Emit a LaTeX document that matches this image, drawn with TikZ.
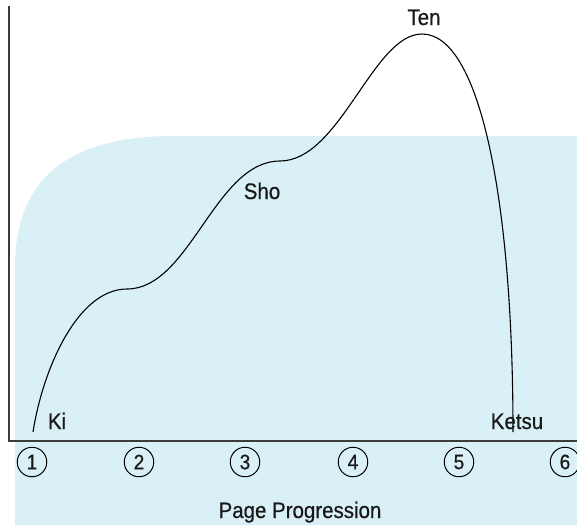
\documentclass[tikz,border=0pt]{standalone}
\usepackage{fontspec}
\setmainfont[FakeStretch=0.91,FakeBold=0.6]{Liberation Sans}
\definecolor{bgcyan}{RGB}{217,240,246}
\definecolor{axisgray}{RGB}{60,60,60}
\definecolor{txt}{RGB}{25,25,25}
\begin{document}
\begin{tikzpicture}[x=1pt,y=-1pt,
  axisline/.style={draw=axisgray,line width=1.4pt},
  storyline/.style={draw=black,line width=1.1pt},
  lbl/.style={font=\fontsize{22.5}{22.5}\selectfont,text=txt,inner sep=0pt,anchor=base},
  numcirc/.style={circle,draw=black,line width=1pt,inner sep=0pt,minimum size=29.5pt,
    font=\fontsize{21}{21}\selectfont,text=txt}]
\useasboundingbox (0,0) rectangle (577,525);
% background panel
\fill[bgcyan] (15,525) -- (15,267) .. controls (15,170) and (80,136) .. (173,136)
  -- (577,136) -- (577,525) -- cycle;
% axes
\coordinate (top) at (9,6);
\coordinate (origin) at (9,441);
\coordinate (right) at (577,441);
\draw[axisline] (top) -- (origin) -- (right);
% story curve
\coordinate (p0) at (33,432);
\coordinate (p1) at (127,289);
\coordinate (p2) at (280,161);
\coordinate (p3) at (422,34);
\coordinate (p4) at (513,432);
\draw[storyline] (p0) .. controls (43,368) and (78,289) .. (p1)
  .. controls (190,289) and (215,161) .. (p2)
  .. controls (340,161) and (373,34) .. (p3)
  .. controls (480,34) and (513,200) .. (p4);
% labels
\node[lbl] (ki) at (57,429) {Ki};
\node[lbl] (sho) at (262,199) {Sho};
\node[lbl] (ten) at (424,25) {Ten};
\node[lbl] (ketsu) at (517,429) {Ketsu};
% circled numbers
\node[numcirc] (n1) at (32,462) {1};
\node[numcirc] (n2) at (139,462) {2};
\node[numcirc] (n3) at (245,462) {3};
\node[numcirc] (n4) at (353,462) {4};
\node[numcirc] (n5) at (459,462) {5};
\node[numcirc] (n6) at (565,462) {6};
\node[lbl] (pp) at (300,518) {Page Progression};
\end{tikzpicture}
\end{document}
